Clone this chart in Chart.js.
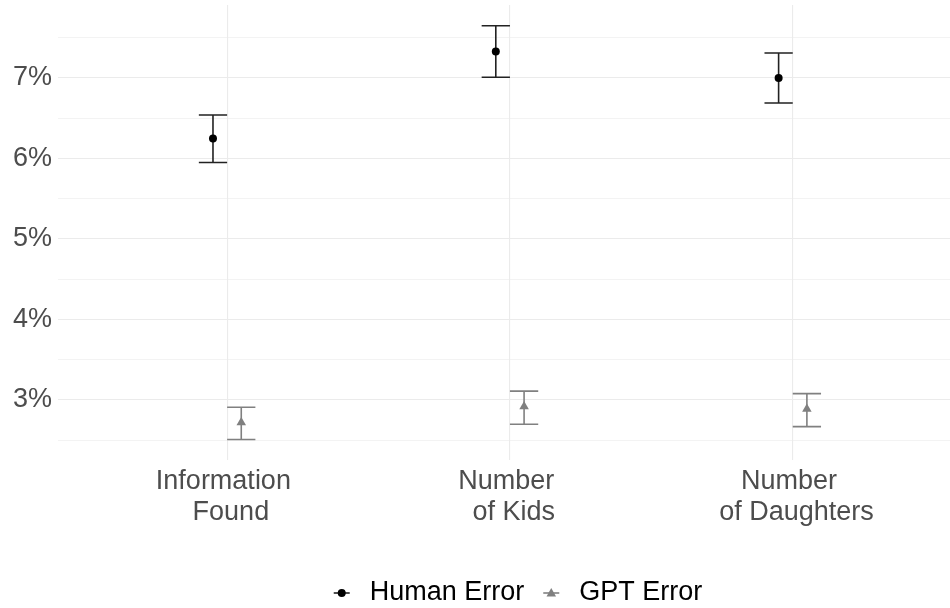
<!DOCTYPE html>
<html>
<head>
<meta charset="utf-8">
<script src="https://cdn.jsdelivr.net/npm/chart.js@4.4.0/dist/chart.umd.min.js"></script>
<style>
  html, body { margin: 0; padding: 0; background: #fff; }
</style>
</head>
<body>
<canvas id="chart" width="950" height="608"></canvas>
<script>
'use strict';

// values (percent)
const categories = [["Information ", " Found"], ["Number ", " of Kids"], ["Number ", " of Daughters"]];
const humanError = [6.25, 7.33, 7.00];
const humanLow = [5.95, 7.01, 6.69];
const humanHigh = [6.54, 7.65, 7.31];
const gptError = [2.72, 2.92, 2.89];
const gptLow = [2.51, 2.70, 2.67];
const gptHigh = [2.91, 3.11, 3.08];
const yTicks = [3, 4, 5, 6, 7];
const seriesNames = ["Human Error", "GPT Error"];

const FONT = "'Liberation Sans', Arial, Helvetica, sans-serif";
const dodge = 0.05;
const capHalf = 0.05;

// draws the error bars with the chart's own scales
const errorBars = {
  id: 'errorBars',
  beforeDatasetsDraw(chart) {
    const ctx = chart.ctx;
    const xs = chart.scales.x, ys = chart.scales.y;
    chart.data.datasets.forEach(ds => {
      ctx.save();
      ctx.strokeStyle = ds.errColor;
      ctx.lineWidth = 1.6;
      ds.data.forEach((p, i) => {
        const x = xs.getPixelForValue(p.x);
        const x0 = xs.getPixelForValue(p.x - capHalf);
        const x1 = xs.getPixelForValue(p.x + capHalf);
        const yl = ys.getPixelForValue(ds.errLow[i]);
        const yh = ys.getPixelForValue(ds.errHigh[i]);
        ctx.beginPath();
        ctx.moveTo(x, yl); ctx.lineTo(x, yh);
        ctx.moveTo(x0, yl); ctx.lineTo(x1, yl);
        ctx.moveTo(x0, yh); ctx.lineTo(x1, yh);
        ctx.stroke();
      });
      ctx.restore();
    });
  }
};

// ggplot-like legend under the axis
const bottomLegend = {
  id: 'bottomLegend',
  afterDraw(chart) {
    const ctx = chart.ctx;
    const cy = 593;
    const centerX = 518;
    ctx.save();
    ctx.font = '27px ' + FONT;
    const keyW = 16, gapText = 20, gapItem = 19;
    const widths = chart.data.datasets.map(ds => ctx.measureText(ds.label).width);
    let total = 0;
    widths.forEach((w, i) => { total += keyW + gapText + w + (i ? gapItem : 0); });
    let x = centerX - total / 2;
    chart.data.datasets.forEach((ds, i) => {
      if (i) x += gapItem;
      const mx = x + keyW / 2;
      ctx.strokeStyle = ds.errColor;
      ctx.lineWidth = 1.6;
      ctx.beginPath();
      ctx.moveTo(x, cy); ctx.lineTo(x + keyW, cy);
      ctx.stroke();
      ctx.fillStyle = ds.backgroundColor;
      ctx.beginPath();
      if (ds.pointStyle === 'triangle') {
        const r = 5;
        ctx.moveTo(mx, cy - r);
        ctx.lineTo(mx + r * 0.95, cy + r * 0.7);
        ctx.lineTo(mx - r * 0.95, cy + r * 0.7);
        ctx.closePath();
      } else {
        ctx.arc(mx, cy, 4, 0, Math.PI * 2);
      }
      ctx.fill();
      x += keyW + gapText;
      ctx.fillStyle = '#000';
      ctx.textBaseline = 'middle';
      ctx.fillText(ds.label, x, cy);
      x += widths[i];
    });
    ctx.restore();
  }
};

const data = {
  datasets: [
    {
      label: seriesNames[0],
      data: humanError.map((v, i) => ({ x: i - dodge, y: v })),
      errLow: humanLow,
      errHigh: humanHigh,
      errColor: '#222222',
      backgroundColor: '#000000',
      borderWidth: 0,
      pointStyle: 'circle',
      pointRadius: 4
    },
    {
      label: seriesNames[1],
      data: gptError.map((v, i) => ({ x: i + dodge, y: v })),
      errLow: gptLow,
      errHigh: gptHigh,
      errColor: '#808080',
      backgroundColor: '#808080',
      borderWidth: 0,
      pointStyle: 'triangle',
      pointRadius: 5.5
    }
  ]
};

const config = {
  type: 'scatter',
  data: data,
  options: {
    responsive: false,
    devicePixelRatio: 1,
    animation: false,
    layout: { autoPadding: false, padding: { top: 5, right: 0, left: 0, bottom: 76 } },
    plugins: {
      legend: { display: false },
      tooltip: { enabled: false }
    },
    scales: {
      x: {
        type: 'linear',
        min: -0.598,
        max: 2.556,
        border: { display: false },
        grid: { color: '#ebebeb', lineWidth: 1.1, drawTicks: false },
        afterBuildTicks: scale => { scale.ticks = categories.map((c, i) => ({ value: i })); },
        afterFit: scale => {
          scale.height = 72;
          scale.paddingLeft = 0;
          scale.paddingRight = 0;
        },
        ticks: {
          autoSkip: false,
          maxRotation: 0,
          padding: 6,
          color: '#4d4d4d',
          font: { size: 27, family: FONT, lineHeight: 1.15 },
          callback: v => categories[v]
        }
      },
      y: {
        type: 'linear',
        min: 2.255,
        max: 7.907,
        border: { display: false },
        grid: {
          color: '#ebebeb',
          drawTicks: false,
          lineWidth: c => Number.isInteger(c.tick.value) ? 1.1 : 0.6
        },
        afterBuildTicks: scale => {
          const t = [];
          yTicks.forEach(v => { t.push({ value: v - 0.5 }); t.push({ value: v }); });
          t.push({ value: yTicks[yTicks.length - 1] + 0.5 });
          scale.ticks = t;
        },
        afterFit: scale => {
          scale.width = 58;
          scale.paddingTop = 0;
          scale.paddingBottom = 0;
        },
        ticks: {
          padding: 6,
          color: '#4d4d4d',
          font: { size: 27, family: FONT },
          callback: v => Number.isInteger(v) ? v + '%' : ''
        }
      }
    }
  },
  plugins: [errorBars, bottomLegend]
};

const canvasElem = document.getElementById('chart');
const myChart = new Chart(canvasElem, config);
</script>
</body>
</html>
